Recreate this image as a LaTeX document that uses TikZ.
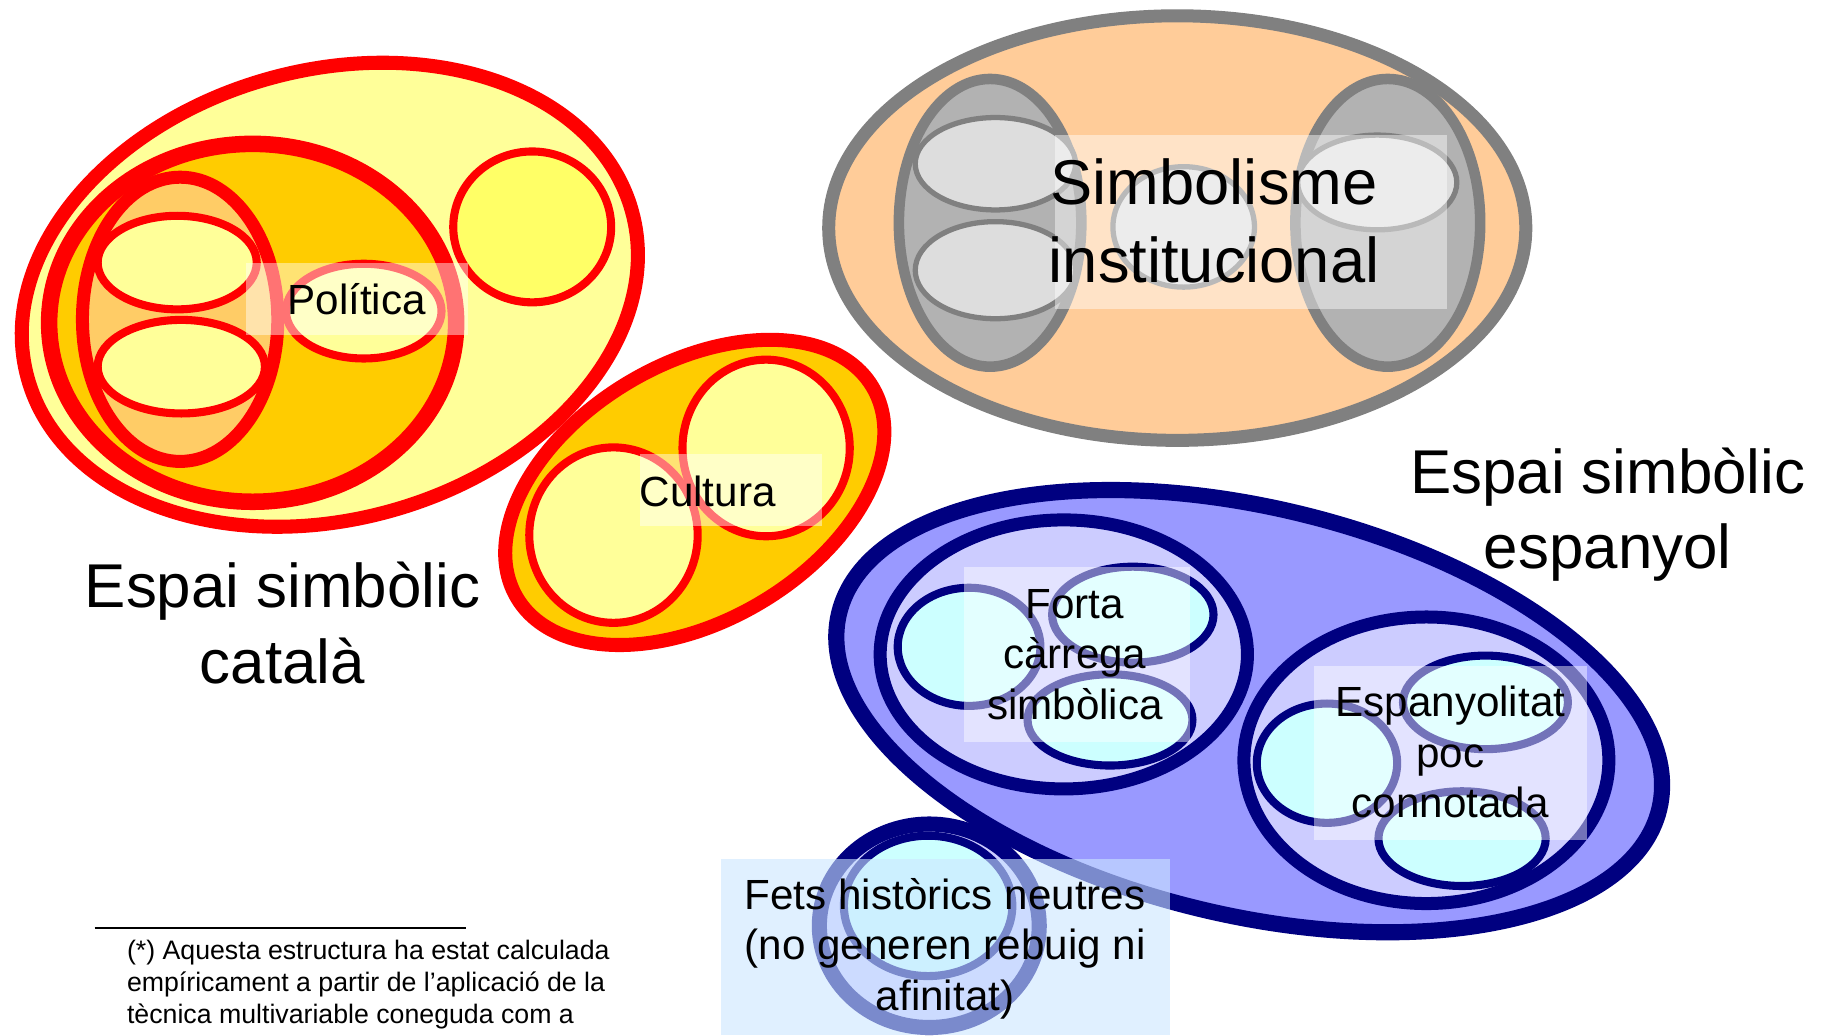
\documentclass[tikz,border=0pt]{standalone}
\usepackage{fontspec}
\setmainfont{Liberation Sans}
\usepackage{xcolor}
\usetikzlibrary{positioning}

\definecolor{catred}{HTML}{FF0000}
\definecolor{catpale}{HTML}{FFFF99}
\definecolor{catgold}{HTML}{FFCC00}
\definecolor{catpeach}{HTML}{FFCC66}
\definecolor{catlemon}{HTML}{FFFF66}
\definecolor{insgray}{HTML}{808080}
\definecolor{insmid}{HTML}{B2B2B2}
\definecolor{inslight}{HTML}{DDDDDD}
\definecolor{inspeach}{HTML}{FFCC99}
\definecolor{espnavy}{HTML}{000080}
\definecolor{espblue}{HTML}{9999FF}
\definecolor{esplav}{HTML}{CCCCFF}
\definecolor{espcyan}{HTML}{CCFFFF}
\definecolor{fetsveil}{HTML}{CCE6FF}

\begin{document}
\begin{tikzpicture}[x=0.3328pt, y=-0.3328pt,
    red line/.style={draw=catred, line width=#1},
    grey line/.style={draw=insgray, line width=#1},
    navy line/.style={draw=espnavy, line width=#1},
    veil/.style={fill=white, fill opacity=0.45},
    title/.style={align=center, inner sep=0pt, font=\fontsize{17.6}{21.6}\selectfont},
    tag/.style={align=center, inner sep=0pt, font=\fontsize{12}{14.4}\selectfont}]
  \useasboundingbox (0,0) rectangle (1568,885);

  \draw[red line=4pt, fill=catpale, rotate around={15.4:(282,252)}] (282,252) ellipse (268 and 192);
  \draw[red line=4.7pt, fill=catgold] (216,276) ellipse (174 and 153);
  \draw[red line=3.7pt, fill=catpeach] (154,273) ellipse (83.5 and 121.5);
  \draw[red line=2.3pt, fill=catpale] (151.5,224.5) ellipse (68 and 40);
  \draw[red line=2.3pt, fill=catpale] (155,313.5) ellipse (71.5 and 40);
  \draw[red line=2.3pt, fill=catpale] (311,266) ellipse (66.5 and 40.5);
  \draw[red line=2.3pt, fill=catlemon] (455,194) ellipse (67.5 and 64.5);
  \draw[red line=4pt, fill=catgold, rotate around={30.6:(594,421)}] (594,421) ellipse (176.7 and 109.8);
  \draw[red line=2.3pt, fill=catpale] (524.5,457.5) ellipse (72 and 75);
  \draw[red line=2.3pt, fill=catpale] (655,383) ellipse (71.5 and 75.5);

  \draw[grey line=3.7pt, fill=inspeach] (1006.5,195) ellipse (298 and 181.5);
  \draw[grey line=3pt, fill=insmid] (846.5,190.5) ellipse (78 and 123);
  \draw[grey line=3pt, fill=insmid] (1186.5,190.5) ellipse (79 and 123);
  \draw[grey line=1.5pt, fill=inslight] (851,140) ellipse (68.5 and 39.5);
  \draw[grey line=1.5pt, fill=inslight] (851,231) ellipse (68.5 and 41.5);
  \draw[grey line=1.5pt, fill=inslight] (1012,194) ellipse (60.5 and 51.5);
  \draw[grey line=1.5pt, fill=inslight] (1177.5,156) ellipse (68 and 40.5);

  \draw[navy line=4.6pt, fill=espblue, rotate around={-13.4:(1068,608)}] (1068,608) ellipse (360.5 and 174.3);
  \draw[navy line=3.7pt, fill=esplav] (909.5,559.5) ellipse (157 and 115);
  \draw[navy line=2.3pt, fill=espcyan] (828.5,553) ellipse (61 and 50.5);
  \draw[navy line=2.3pt, fill=espcyan] (968.5,525.5) ellipse (69 and 41);
  \draw[navy line=2.3pt, fill=espcyan] (949,615.5) ellipse (70.5 and 39);
  \draw[navy line=3.7pt, fill=esplav] (1219.5,650) ellipse (156 and 122.5);
  \draw[navy line=2.3pt, fill=espcyan] (1134.5,652.5) ellipse (60 and 51);
  \draw[navy line=2.3pt, fill=espcyan] (1270,600.5) ellipse (70.5 and 40);
  \draw[navy line=2.3pt, fill=espcyan] (1250,717) ellipse (71.5 and 40.5);
  \draw[navy line=4.3pt, fill=esplav] (794.5,791.5) ellipse (94 and 87);
  \draw[navy line=2.3pt, fill=espcyan] (793.5,774.5) ellipse (72 and 60);

  \fill[veil] (210,225) rectangle (400,286);
  \fill[veil] (547,388) rectangle (703,450);
  \fill[veil] (902,115) rectangle (1237,264);
  \fill[veil] (824,485) rectangle (1017,634);
  \fill[veil] (1123,569) rectangle (1357,718);
  \fill[veil, fill=fetsveil, fill opacity=0.6] (616,734) rectangle (1000,885);

  \node[tag] (pol) at (305,255.5) {Política};
  \node[tag] (cul) at (605,420) {Cultura};
  \node[align=center, inner sep=0pt, font=\fontsize{18}{22.3}\selectfont] (inst) at (1038,189) {Simbolisme\\institucional};
  \node[tag] (forta) at (919,559.5) {Forta\\càrrega\\simbòlica};
  \node[tag] (espoc) at (1240,643) {Espanyolitat\\poc\\connotada};
  \node[tag] (fets) at (808,811) {Fets històrics neutres\\(no generen rebuig ni\\afinitat)};
  \node[title] (cat) at (241.5,532.5) {Espai simbòlic\\català};
  \node[title] (esp) at (1374.5,440) {Espai simbòlic\\espanyol};

  \draw[line width=0.5pt] (81,793.5) -- (398,793.5);
  \node[anchor=north west, align=left, inner sep=0pt, font=\fontsize{7.6}{9}\selectfont] (note) at (108,803.5)
    {(*) Aquesta estructura ha estat calculada\\empíricament a partir de l’aplicació de la\\tècnica multivariable coneguda com a};
\end{tikzpicture}
\end{document}
